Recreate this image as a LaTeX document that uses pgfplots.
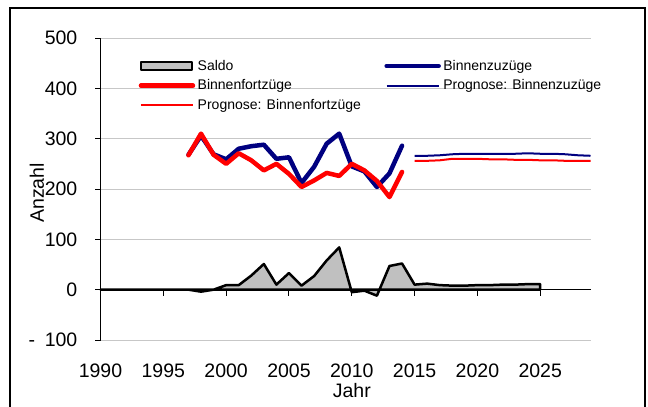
\documentclass[border=0pt]{standalone}
\usepackage{fontspec}
\setmainfont{Liberation Sans}
\usepackage{pgfplots}
\pgfplotsset{compat=1.18}
\definecolor{zuzug}{RGB}{0,0,128}
\definecolor{fortzug}{RGB}{255,0,0}
\definecolor{saldofill}{RGB}{192,192,192}
\pgfplotsset{
  linelegend/.style={legend image code/.code={\draw[##1] (0pt,0pt) -- (52pt,0pt);}},
  boxlegend/.style={legend image code/.code={\draw[##1] (0pt,-4pt) rectangle (51pt,4pt);}},
}

\begin{document}
\begin{tikzpicture}
\useasboundingbox (0,0) rectangle (648pt,407pt);
\draw[line width=1.3pt] (10pt,0pt) -- (10pt,399pt) -- (645pt,399pt) -- (645pt,0pt);
\begin{axis}[
  at={(100.5pt,67pt)}, anchor=south west,
  scale only axis, width=490pt, height=302pt,
  xmin=1990, xmax=2029, ymin=-100, ymax=500,
  clip=false,
  axis lines*=left,
  x axis line style={draw=none},
  y axis line style={line width=1pt},
  xtick={1990,1995,...,2025},
  ytick={-100,0,...,500},
  yticklabels={{-\hspace{0.5em}100},0,100,200,300,400,500},
  major tick length=0pt,
  ymajorgrids, grid style={black!22, line width=1pt},
  /pgf/number format/assume math mode=true,
  /pgf/number format/1000 sep={},
  tick label style={font=\fontsize{19.5}{22}\selectfont},
  xticklabel style={anchor=center, yshift=-31pt},
  yticklabel style={anchor=east, inner sep=0pt, xshift=-23pt},
  xlabel={Jahr}, ylabel={Anzahl},
  every axis x label/.style={at={(axis description cs:0.513,-0.166)}, anchor=center,
    inner sep=0pt, font=\fontsize{19.5}{22}\selectfont},
  every axis y label/.style={at={(axis description cs:-0.13,0.487)}, rotate=90, anchor=center,
    font=\fontsize{19.5}{22}\selectfont},
  legend columns=2,
  legend cell align=left,
  linelegend,
  legend style={at={(axis description cs:0.078,0.935)}, anchor=north west,
    draw=none, fill=none, inner sep=0pt, outer sep=0pt,
    font=\fontsize{14}{16}\selectfont,
    nodes={inner sep=2.5pt}, row sep=3pt,
    /tikz/column 2/.style={column sep=21pt}},
]
% Saldo
\addplot[draw=black, line width=2.5pt, fill=saldofill, line join=round, no marks, boxlegend]
  coordinates {
    (1990,0) (1991,0) (1992,0) (1993,0) (1994,0) (1995,0) (1996,0)
    (1997,0) (1998,-4) (1999,0) (2000,9) (2001,9) (2002,28) (2003,51)
    (2004,10) (2005,33) (2006,8) (2007,27) (2008,58) (2009,84)
    (2010,-5) (2011,-2) (2012,-12) (2013,47) (2014,52)
    (2015,10) (2016,12) (2017,9) (2018,8) (2019,8) (2020,9)
    (2021,9) (2022,10) (2023,10) (2024,11) (2025,11)
  } \closedcycle;
\addlegendentry{Saldo}
% Binnenzuzuege
\addplot[zuzug, line width=4.5pt, line join=round, line cap=round, no marks]
  coordinates {
    (1997,268) (1998,306) (1999,269) (2000,259) (2001,280) (2002,285)
    (2003,288) (2004,260) (2005,263) (2006,212) (2007,244) (2008,290)
    (2009,310) (2010,245) (2011,235) (2012,204) (2013,231) (2014,286)
  };
\addlegendentry{Binnenzuzüge}
% Binnenfortzuege
\addplot[fortzug, line width=4.5pt, line join=round, line cap=round, no marks]
  coordinates {
    (1997,267) (1998,310) (1999,268) (2000,250) (2001,271) (2002,257)
    (2003,237) (2004,250) (2005,230) (2006,204) (2007,217) (2008,232)
    (2009,226) (2010,250) (2011,237) (2012,216) (2013,184) (2014,234)
  };
\addlegendentry{Binnenfortzüge}
% Prognose Zuzuege
\addplot[zuzug, line width=2pt, line join=round, no marks]
  coordinates {
    (2015,266) (2016,266) (2017,267) (2018,269) (2019,270) (2020,270)
    (2021,270) (2022,270) (2023,270) (2024,271) (2025,270) (2026,270)
    (2027,269) (2028,267) (2029,266)
  };
\addlegendentry{Prognose: Binnenzuzüge}
% Prognose Fortzuege
\addplot[fortzug, line width=2pt, line join=round, no marks]
  coordinates {
    (2015,256) (2016,256) (2017,257) (2018,260) (2019,260) (2020,260)
    (2021,259) (2022,259) (2023,258) (2024,258) (2025,257) (2026,257)
    (2027,256) (2028,256) (2029,256)
  };
\addlegendentry{Prognose: Binnenfortzüge}
\draw[line width=1.5pt] (axis cs:1990,0) -- (axis cs:2029,0);
\pgfplotsinvokeforeach{1995,2000,2005,2010,2015,2020,2025}{
  \draw[line width=1pt] (axis cs:#1,0) -- ++(0pt,-6pt);}
\pgfplotsinvokeforeach{-100,0,100,200,300,400,500}{
  \draw[line width=1pt] (axis cs:1990,#1) -- ++(-6pt,0pt);}
\end{axis}
\end{tikzpicture}
\end{document}
